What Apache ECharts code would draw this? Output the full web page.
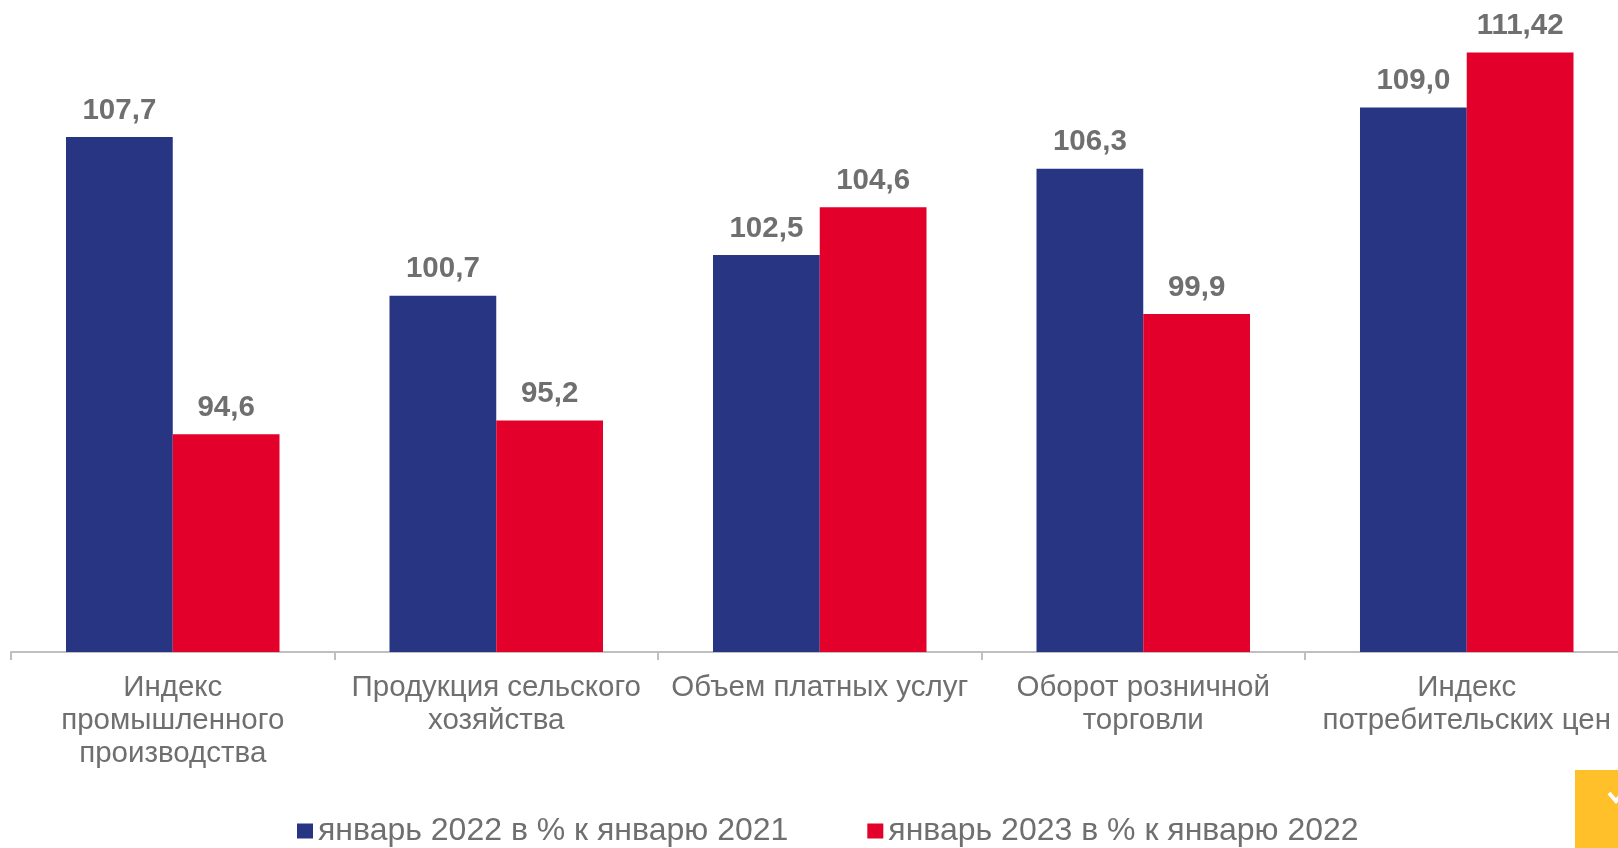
<!DOCTYPE html>
<html>
<head>
<meta charset="utf-8">
<script src="https://cdn.jsdelivr.net/npm/echarts@6/dist/echarts.min.js"></script>
<style>
html,body{margin:0;padding:0;background:#fff;}
#chart{width:1618px;height:848px;}
</style>
</head>
<body>
<div id="chart"></div>
<script>
const categories = [
  "Индекс\nпромышленного\nпроизводства",
  "Продукция сельского\nхозяйства",
  "Объем платных услуг",
  "Оборот розничной\nторговли",
  "Индекс\nпотребительских цен"
];
const seriesNames = ["январь 2022 в % к январю 2021", "январь 2023 в % к январю 2022"];
const jan2022 = [107.7, 100.7, 102.5, 106.3, 109.0];
const jan2023 = [94.6, 95.2, 104.6, 99.9, 111.42];

function fmt(v) {
  const tenth = Math.abs(Math.round(v * 10) - v * 10) < 1e-9;
  return (tenth ? v.toFixed(1) : v.toFixed(2)).replace('.', ',');
}

const FONT = '"Liberation Sans", Arial, sans-serif';
const labelStyle = {
  show: true,
  position: 'top',
  distance: 12,
  fontFamily: FONT,
  fontSize: 29.5,
  lineHeight: 29,
  fontWeight: 'bold',
  color: '#6f6f6f',
  formatter: p => fmt(p.value)
};

const chart = echarts.init(document.getElementById('chart'), null, {renderer: 'canvas'});
chart.setOption({
  animation: false,
  backgroundColor: '#ffffff',
  grid: {left: 11, top: 39.4, width: 1617.5, bottom: 196, containLabel: false, outerBoundsMode: 'none'},
  legend: {
    data: seriesNames,
    left: 297,
    top: 815,
    padding: 0,
    itemWidth: 16,
    itemHeight: 15,
    itemGap: 79,
    icon: 'rect',
    textStyle: {fontFamily: FONT, fontSize: 32, lineHeight: 32, color: '#6f6f6f'}
  },
  xAxis: {
    type: 'category',
    data: categories,
    axisLine: {show: true, lineStyle: {color: '#bfbfbf', width: 2}},
    axisTick: {show: true, length: 8, lineStyle: {color: '#bfbfbf', width: 2}},
    axisLabel: {
      interval: 0,
      margin: 19,
      fontFamily: FONT,
      fontSize: 29.5,
      lineHeight: 33,
      color: '#6f6f6f'
    }
  },
  yAxis: {
    type: 'value',
    min: 85,
    max: 112,
    show: false,
    splitLine: {show: false}
  },
  series: [
    {
      name: seriesNames[0],
      type: 'bar',
      data: jan2022,
      barGap: '0%',
      barCategoryGap: '34%',
      itemStyle: {color: '#283583'},
      label: labelStyle
    },
    {
      name: seriesNames[1],
      type: 'bar',
      data: jan2023,
      barGap: '0%',
      barCategoryGap: '34%',
      itemStyle: {color: '#E3002B'},
      label: labelStyle
    }
  ],
  graphic: [
    {type: 'rect', shape: {x: 1575, y: 770, width: 50, height: 80}, style: {fill: '#FFC02A'}},
    {type: 'polyline', shape: {points: [[1609, 793], [1616, 801], [1623, 793]]}, style: {stroke: '#ffffff', lineWidth: 4, fill: null}}
  ]
});
</script>
</body>
</html>
